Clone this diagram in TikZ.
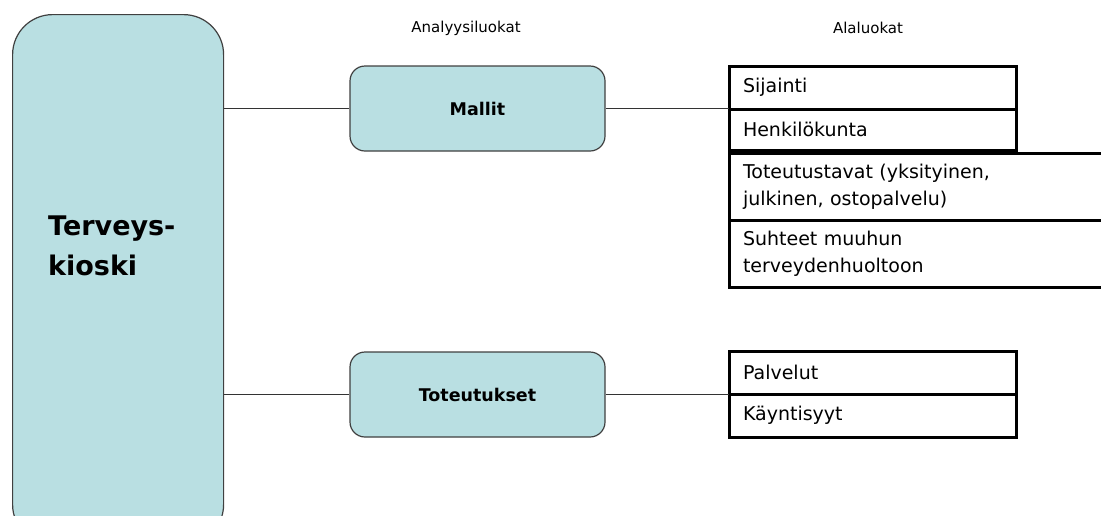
\documentclass[tikz,border=0pt]{standalone}
\usepackage{fontspec}
\setmainfont{DejaVu Sans}
\usepackage{tikz}
\usetikzlibrary{positioning}
\definecolor{kioskiblue}{HTML}{B9DFE2}
\tikzset{luokka/.style={draw=black!75, fill=kioskiblue, rounded corners=15pt, line width=1.2pt, minimum width=255pt, minimum height=85pt, font=\fontsize{17.5}{21}\selectfont\bfseries}}
\tikzset{ala/.style={draw=black, line width=3pt, anchor=north west, align=left, inner xsep=14pt, inner ysep=0pt, outer sep=0pt, font=\fontsize{19}{27}\selectfont}}
\tikzset{otsikko/.style={font=\fontsize{15}{18}\selectfont}}
\tikzset{yhteys/.style={draw=black!80, line width=1.2pt}}

\begin{document}
\begin{tikzpicture}[x=1pt,y=-1pt]
\useasboundingbox (0,0) rectangle (1101,515);
\clip (0,0) rectangle (1101,515);
\node[draw=black!75, fill=kioskiblue, rounded corners=40pt, line width=1.2pt, minimum width=211pt, minimum height=530pt, anchor=north west] (kioski) at (12,14) {};
\node[anchor=west, inner sep=0pt, align=left, font=\fontsize{27}{40}\selectfont\bfseries] (kioskiteksti) at (48,246) {Terveys-\\kioski};
\node[otsikko] (analyysi) at (466,28) {Analyysiluokat};
\node[otsikko] (alaluokat) at (868,28) {Alaluokat};
\node[luokka] (mallit) at (477.5,108.5) {Mallit};
\node[luokka] (toteutukset) at (477.5,394.5) {Toteutukset};
% alaluokat
\node[ala, text width=259pt, minimum height=43pt] (sijainti) at (729,66) {Sijainti};
\node[ala, text width=259pt, minimum height=41pt, below=0pt of sijainti] (henkilo) {Henkilökunta};
\node[ala, text width=360pt, minimum height=67pt, below=3pt of henkilo.south west, anchor=north west] (tapa) {Toteutustavat (yksityinen,\\julkinen, ostopalvelu)};
\node[ala, text width=360pt, minimum height=67pt, below=0pt of tapa] (suhteet) {Suhteet muuhun\\terveydenhuoltoon};
\node[ala, text width=259pt, minimum height=43pt] (palvelut) at (729,351) {Palvelut};
\node[ala, text width=259pt, minimum height=43pt, below=0pt of palvelut] (syyt) {Käyntisyyt};
% yhteydet
\draw[yhteys] (mallit.west) -- (mallit.west -| kioski.east);
\draw[yhteys] (toteutukset.west) -- (toteutukset.west -| kioski.east);
\draw[yhteys] (mallit.east) -- (mallit.east -| sijainti.west);
\draw[yhteys] (toteutukset.east) -- (toteutukset.east -| palvelut.west);
\end{tikzpicture}
\end{document}
